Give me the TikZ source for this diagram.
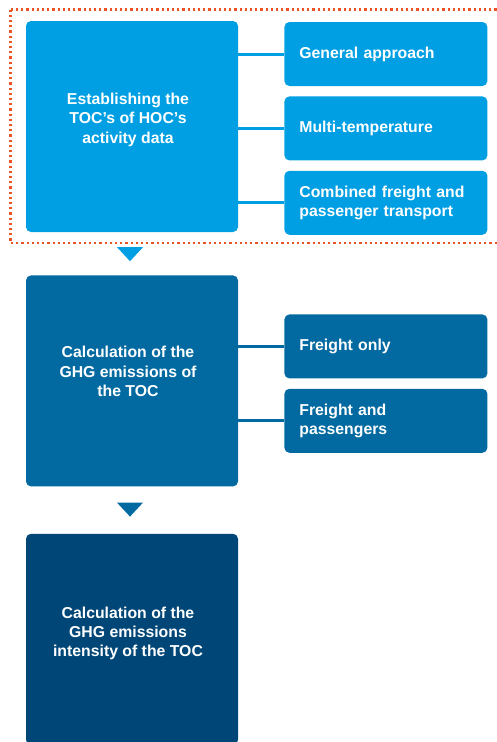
\documentclass[tikz,border=0pt]{standalone}
\usepackage{fontspec}
\setmainfont{Liberation Sans}
\usepackage{tikz}
\usetikzlibrary{
    positioning,
    calc
}
\definecolor{procblue}{HTML}{009FE3}
\definecolor{midblue}{HTML}{036AA1}
\definecolor{darkblue}{HTML}{004677}
\definecolor{dotred}{HTML}{EA5424}

\begin{document}
\begin{tikzpicture}[
    node distance=10pt,
    stage/.style={
        rectangle,
        rounded corners=5pt,
        minimum width=212pt,
        minimum height=211pt,
        inner sep=0pt
    },
    stagetext/.style={
        anchor=north,
        inner sep=0pt,
        align=center,
        text=white,
        font=\fontsize{15.8}{19.3}\selectfont\bfseries
    },
    option/.style={
        rectangle,
        rounded corners=5pt,
        minimum height=64pt,
        text width=173pt,
        inner xsep=15pt,
        align=left,
        text=white,
        font=\fontsize{15.8}{19.3}\selectfont\bfseries
    },
    link/.style={line width=3pt},
    frame/.style={draw=dotred,line width=2.2pt,dash pattern=on 2.2pt off 3pt}
]
    \clip (0,0) rectangle (497pt,-742pt);

    % Frame
    \draw[frame] (10.5pt,-9.5pt) rectangle (540pt,-243pt);

    % Nodes
    \node[stage,fill=procblue] (establish) at (132pt,-126.5pt) {};
    \node[stage,fill=midblue,below=43pt of establish] (calcghg) {};
    \node[stage,fill=darkblue,below=47pt of calcghg] (intensity) {};

    \node[stagetext] (establish-text) at ([xshift=-4pt,yshift=-72pt]establish.north) {Establishing the\\TOC’s of HOC’s\\activity data};
    \node[stagetext] (calcghg-text) at ([xshift=-4pt,yshift=-71pt]calcghg.north) {Calculation of the\\GHG emissions of\\the TOC};
    \node[stagetext] (intensity-text) at ([xshift=-4pt,yshift=-73pt]intensity.north) {Calculation of the\\GHG emissions\\intensity of the TOC};

    \node[option,fill=procblue,right=46pt of establish.north east,anchor=north west,yshift=-1pt] (general) {General approach};
    \node[option,fill=procblue,below=of general] (multitemp) {Multi-temperature};
    \node[option,fill=procblue,below=of multitemp] (combined) {Combined freight and\\passenger transport};

    \node[option,fill=midblue,right=46pt of calcghg.north east,anchor=north west,yshift=-39pt] (freight) {Freight only};
    \node[option,fill=midblue,below=of freight] (freightpass) {Freight and\\passengers};

    % Links
    \draw[link,procblue] (establish.east |- general.west) -- (general.west);
    \draw[link,procblue] (establish.east |- multitemp.west) -- (multitemp.west);
    \draw[link,procblue] (establish.east |- combined.west) -- (combined.west);
    \draw[link,midblue] (calcghg.east |- freight.west) -- (freight.west);
    \draw[link,midblue] (calcghg.east |- freightpass.west) -- (freightpass.west);

    % Arrows
    \fill[procblue] ([xshift=-15pt,yshift=-15pt]establish.south) -- ++(26pt,0) -- ++(-13pt,-14pt) -- cycle;
    \fill[midblue] ([xshift=-15pt,yshift=-16pt]calcghg.south) -- ++(26pt,0) -- ++(-13pt,-14pt) -- cycle;
\end{tikzpicture}
\end{document}
